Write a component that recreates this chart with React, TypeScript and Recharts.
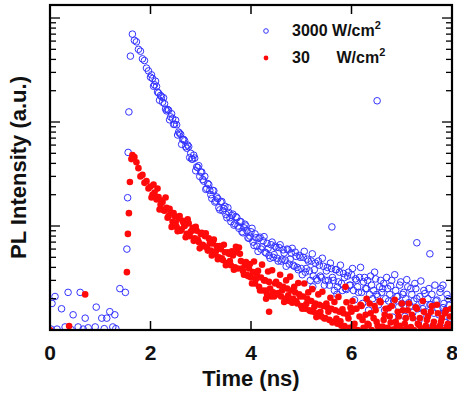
import { Legend, Scatter, ScatterChart, XAxis, YAxis } from 'recharts'

// time grids of the decay part (ns); B sits between the points of A
const decayTimeA = [
  1.64, 1.68, 1.72, 1.76, 1.8, 1.84, 1.88, 1.92, 1.96, 2.0,
  2.04, 2.08, 2.12, 2.16, 2.2, 2.24, 2.28, 2.32, 2.36, 2.4,
  2.44, 2.48, 2.52, 2.56, 2.6, 2.64, 2.68, 2.72, 2.76, 2.8,
  2.84, 2.88, 2.92, 2.96, 3.0, 3.04, 3.08, 3.12, 3.16, 3.2,
  3.24, 3.28, 3.32, 3.36, 3.4, 3.44, 3.48, 3.52, 3.56, 3.6,
  3.64, 3.68, 3.72, 3.76, 3.8, 3.84, 3.88, 3.92, 3.96, 4.0,
  4.04, 4.08, 4.12, 4.16, 4.2, 4.24, 4.28, 4.32, 4.36, 4.4,
  4.44, 4.48, 4.52, 4.56, 4.6, 4.64, 4.68, 4.72, 4.76, 4.8,
  4.84, 4.88, 4.92, 4.96, 5.0, 5.04, 5.08, 5.12, 5.16, 5.2,
  5.24, 5.28, 5.32, 5.36, 5.4, 5.44, 5.48, 5.52, 5.56, 5.6,
  5.64, 5.68, 5.72, 5.76, 5.8, 5.84, 5.88, 5.92, 5.96, 6.0,
  6.04, 6.08, 6.12, 6.16, 6.2, 6.24, 6.28, 6.32, 6.36, 6.4,
  6.44, 6.48, 6.52, 6.56, 6.6, 6.64, 6.68, 6.72, 6.76, 6.8,
  6.84, 6.88, 6.92, 6.96, 7.0, 7.04, 7.08, 7.12, 7.16, 7.2,
  7.24, 7.28, 7.32, 7.36, 7.4, 7.44, 7.48, 7.52, 7.56, 7.6,
  7.64, 7.68, 7.72, 7.76, 7.8, 7.84, 7.88, 7.92, 7.96,
]
const decayTimeB = [
  2.02, 2.06, 2.1, 2.14, 2.18, 2.22, 2.26, 2.3, 2.34, 2.38,
  2.42, 2.46, 2.5, 2.54, 2.58, 2.62, 2.66, 2.7, 2.74, 2.78,
  2.82, 2.86, 2.9, 2.94, 2.98, 3.02, 3.06, 3.1, 3.14, 3.18,
  3.22, 3.26, 3.3, 3.34, 3.38, 3.42, 3.46, 3.5, 3.54, 3.58,
  3.62, 3.66, 3.7, 3.74, 3.78, 3.82, 3.86, 3.9, 3.94, 3.98,
  4.02, 4.06, 4.1, 4.14, 4.18, 4.22, 4.26, 4.3, 4.34, 4.38,
  4.42, 4.46, 4.5, 4.54, 4.58, 4.62, 4.66, 4.7, 4.74, 4.78,
  4.82, 4.86, 4.9, 4.94, 4.98, 5.02, 5.06, 5.1, 5.14, 5.18,
  5.22, 5.26, 5.3, 5.34, 5.38, 5.42, 5.46, 5.5, 5.54, 5.58,
  5.62, 5.66, 5.7, 5.74, 5.78, 5.82, 5.86, 5.9, 5.94, 5.98,
  6.02, 6.06, 6.1, 6.14, 6.18, 6.22, 6.26, 6.3, 6.34, 6.38,
  6.42, 6.46, 6.5, 6.54, 6.58, 6.62, 6.66, 6.7, 6.74, 6.78,
  6.82, 6.86, 6.9, 6.94, 6.98, 7.02, 7.06, 7.1, 7.14, 7.18,
  7.22, 7.26, 7.3, 7.34, 7.38, 7.42, 7.46, 7.5, 7.54, 7.58,
  7.62, 7.66, 7.7, 7.74, 7.78, 7.82, 7.86, 7.9, 7.94, 7.98,
]

// 3000 W/cm2
const highPLA = [
  700, 610, 590, 500, 480, 405, 390, 330, 310, 270,
  262, 228, 220, 190, 180, 155, 150, 128, 130, 112,
  108, 95, 94, 80, 76, 68, 66, 56, 58, 50,
  44, 45, 37, 38, 33, 28, 30, 23, 25, 20,
  22, 17, 19, 15, 17, 14, 15.5, 12, 13.5, 11,
  13, 10.5, 12, 9.5, 11, 8.6, 10.4, 9.0, 7.6, 8.8,
  7.0, 8.4, 6.4, 7.6, 6.0, 7.2, 5.6, 6.8, 5.2, 6.6,
  5.0, 6.4, 4.9, 6.2, 4.6, 5.9, 4.7, 6.0, 4.3, 5.5,
  4.2, 5.6, 4.0, 5.2, 3.9, 5.0, 3.6, 4.8, 3.7, 4.6,
  3.3, 4.4, 3.0, 4.2, 3.2, 4.1, 3.0, 4.0, 2.7, 3.9,
  3.0, 3.8, 2.6, 3.6, 2.8, 3.5, 2.5, 3.3, 2.7, 3.4,
  2.4, 3.1, 2.6, 3.2, 2.3, 2.9, 2.5, 3.0, 2.2, 2.7,
  2.4, 3.1, 2.1, 2.6, 2.3, 2.8, 2.0, 2.5, 2.2, 3.0,
  1.9, 2.4, 2.1, 2.7, 1.8, 2.3, 2.0, 2.6, 1.7, 2.2,
  1.9, 2.5, 1.6, 2.1, 1.85, 2.4, 1.5, 2.0, 1.75, 2.2,
  1.45, 1.9, 1.6, 2.3, 1.4, 1.8, 1.55, 2.0, 1.3,
]
const highPLB = [
  284, 221, 247, 194, 162, 175, 171, 133, 132, 105,
  120, 95, 104, 75, 78, 61, 68, 58, 60, 45.5,
  44, 48, 34, 36.5, 30, 33, 27, 22.5, 25.6, 22,
  18.4, 21.8, 17.4, 18.3, 14.3, 17.2, 14.7, 12.9, 15, 12,
  12.6, 10.2, 12.3, 10, 11, 8.8, 9.6, 10, 7.7, 8.0,
  9.5, 6.5, 7.7, 5.7, 7.8, 6.3, 7.9, 5.5, 6.1, 4.9,
  7.0, 5.3, 6.2, 4.6, 6.6, 4.8, 5.5, 4.1, 5.9, 4.8,
  6.1, 4.1, 5.1, 3.8, 5.0, 3.4, 5.7, 3.9, 4.6, 3.0,
  5.4, 3.8, 3.1, 4.6, 3.3, 4.9, 2.7, 3.7, 3.0, 4.4,
  3.2, 2.4, 3.8, 2.9, 4.2, 2.4, 3.2, 2.45, 3.6, 2.7,
  3.9, 1.95, 3.0, 2.3, 4.0, 1.8, 3.2, 2.5, 1.55, 3.3,
  2.0, 3.6, 2.2, 1.75, 3.0, 2.5, 1.55, 3.2, 1.9, 2.65,
  1.33, 3.4, 2.1, 1.67, 2.9, 2.2, 1.35, 3.05, 1.83, 2.5,
  1.47, 2.8, 2.0, 1.23, 2.96, 1.6, 2.24, 1.35, 2.5, 1.75,
  1.09, 2.7, 1.94, 1.4, 2.5, 1.64, 1.18, 2.2, 1.73, 1.26,
]
const highEarlyTime = [
  0.02, 0.04, 0.1, 0.14, 0.23, 0.3, 0.36, 0.42, 0.46, 0.56, 0.6, 0.66, 0.7, 0.76,
  0.9, 0.92, 1.03, 1.08, 1.13, 1.19, 1.25, 1.29, 1.31, 1.39, 1.5,
  1.53, 1.545, 1.555, 1.57, 1.6,
]
const highEarlyPL = [
  1.02, 1.8, 2.1, 1.02, 1.6, 1.07, 2.3, 1.01, 1.4, 1.07, 2.3, 1.02, 1.3, 1.05,
  1.07, 1.66, 1.3, 1.03, 1.3, 1.5, 1.07, 1.4, 1.03, 2.5, 2.3,
  6.0, 18.7, 51, 125, 430,
]
const highStrayTime = [5.23, 5.61, 5.71, 6.51, 7.3, 7.56, 7.82]
const highStrayPL = [2.6, 9.8, 2.2, 160, 6.9, 5.4, 2.7]

// 30 W/cm2
const lowPLA = [
  48, 46, 41, 36, 30, 31, 26, 27, 23, 24,
  20, 21, 18, 19, 16, 17, 14, 15, 12.5, 13.5,
  11, 12.5, 9.8, 11.8, 9.0, 11.2, 10.0, 8.4, 10.6, 8.8,
  9.6, 7.6, 9.0, 7.0, 8.4, 6.6, 8.0, 6.2, 7.6, 5.8,
  6.8, 5.4, 6.4, 5.0, 6.0, 4.7, 5.6, 4.4, 5.4, 4.2,
  5.2, 4.0, 5.6, 6.2, 4.6, 3.7, 4.2, 3.4, 3.9, 3.2,
  3.6, 2.8, 3.3, 2.6, 3.2, 2.4, 3.0, 2.2, 2.9, 2.1,
  2.3, 2.8, 2.2, 2.7, 2.1, 2.6, 2.0, 2.5, 1.9, 2.4,
  2.0, 2.3, 1.8, 2.2, 1.7, 2.1, 1.6, 2.0, 1.55, 1.9,
  1.5, 1.8, 1.45, 1.75, 1.35, 1.7, 1.3, 1.65, 1.25, 1.6,
  1.2, 1.55, 1.15, 1.5, 1.1, 1.45, 2.6, 1.4, 1.05, 1.5,
  1.1, 1.6, 1.0, 1.35, 1.7, 1.05, 1.4, 1.15, 1.8, 1.0,
  1.3, 1.55, 1.1, 1.9, 1.0, 1.25, 1.6, 1.05, 1.35, 1.7,
  1.0, 1.2, 1.5, 1.1, 1.8, 1.0, 1.3, 1.55, 1.05, 1.4,
  1.0, 1.65, 1.15, 1.3, 1.0, 1.5, 1.1, 1.35, 1.0, 1.7,
  1.2, 1.0, 1.45, 1.1, 1.3, 1.0, 1.55, 1.15, 1.35,
]
const lowPLB = [
  18.8, 25, 19, 22.9, 14.4, 17.6, 14.2, 18.8, 12, 14.6,
  9.8, 13.3, 10.8, 8.9, 12.5, 9.3, 10.6, 7.8, 11.6, 8.0,
  9.0, 7.2, 9.8, 7.4, 6.1, 8.6, 6.4, 8.5, 5.8, 6.8,
  5.2, 7.4, 5.7, 4.8, 6.4, 4.9, 6.6, 4.2, 5.6, 4.6,
  5.7, 3.8, 6.3, 3.9, 5.4, 3.9, 3.4, 4.5, 3.3, 4.3,
  2.8, 4.55, 3.1, 3.7, 2.4, 4.25, 3.0, 2.4, 3.65, 2.5,
  3.75, 2.1, 2.9, 2.27, 3.4, 2.4, 1.86, 3.0, 2.16, 3.26,
  1.83, 2.6, 1.89, 2.83, 2.1, 1.6, 2.8, 1.78, 2.3, 1.52,
  2.47, 1.67, 1.33, 2.2, 1.5, 2.33, 1.29, 1.8, 1.5, 2.04,
  1.18, 1.86, 1.29, 2.08, 1.21, 1.58, 1.09, 1.85, 1.29, 1.64,
  1.9, 1.15, 1.6, 0.98, 1.75, 1.25, 1.02, 2.0, 1.12, 1.45,
  0.96, 1.7, 1.2, 1.03, 1.85, 1.08, 1.4, 0.97, 1.62, 1.18,
  1.01, 1.95, 1.1, 1.35, 0.98, 1.55, 1.15, 1.02, 1.8, 1.07,
  1.3, 0.97, 1.6, 1.12, 1.01, 1.9, 1.05, 1.25, 0.98, 1.5,
  1.1, 1.0, 1.75, 1.06, 1.2, 0.97, 1.45, 1.08, 1.02, 1.6,
]
const lowEarlyTime = [0, 0.38, 0.7, 1.53, 1.55, 1.57, 1.59, 1.62]
const lowEarlyPL = [1.0, 1.09, 2.2, 3.6, 8.4, 13.3, 26.5, 44]
const lowStrayTime = [4.3, 4.36]
const lowStrayPL = [2.0, 1.5]

const xTicks = [0, 2, 4, 6, 8]
const xDomain = [0, 8]
const yDomain = [1, 1334]
const yDecades = [1, 10, 100, 1000]
const yTicks = [
  1, 2, 3, 4, 5, 6, 7, 8, 9,
  10, 20, 30, 40, 50, 60, 70, 80, 90,
  100, 200, 300, 400, 500, 600, 700, 800, 900,
  1000,
]
const seriesNames = ['3000 W/cm²', '30      W/cm²']

const BLUE = '#3333ff'
const RED = '#ff0a0a'
const AXIS = '#000000'
const FONT = '"Liberation Sans", Arial, Helvetica, sans-serif'

// layout
const CHART_W = 457
const CHART_H = 397
const MARGIN = { top: 5, right: 5, bottom: 0, left: 0 }
const Y_AXIS_W = 50
const X_AXIS_H = 67
const PLOT_X = MARGIN.left + Y_AXIS_W
const PLOT_Y = MARGIN.top
const PLOT_W = CHART_W - MARGIN.left - MARGIN.right - Y_AXIS_W
const PLOT_H = CHART_H - MARGIN.top - MARGIN.bottom - X_AXIS_H

const toPoints = (ts: number[], vs: number[]) => ts.map((t, i) => ({ t, pl: vs[i] }))

const highData = [
  ...toPoints(highEarlyTime, highEarlyPL),
  ...toPoints(decayTimeA, highPLA),
  ...toPoints(decayTimeB, highPLB),
  ...toPoints(highStrayTime, highStrayPL),
]
const lowData = [
  ...toPoints(lowEarlyTime, lowEarlyPL),
  ...toPoints(decayTimeA, lowPLA),
  ...toPoints(decayTimeB, lowPLB),
  ...toPoints(lowStrayTime, lowStrayPL),
]

const OpenDot = (p: any) => <circle cx={p.cx} cy={p.cy} r={3.3} fill="none" stroke={BLUE} strokeWidth={1} />
const FilledDot = (p: any) => <circle cx={p.cx} cy={p.cy} r={3.3} fill={RED} />

function BottomTick({ x, y, payload }: any) {
  const v = payload.value
  return (
    <g>
      {v > xDomain[0] && v < xDomain[1] && (
        <line x1={x} x2={x} y1={y} y2={y - 9} stroke={AXIS} strokeWidth={1.5} />
      )}
      <text x={x} y={y + 30} textAnchor="middle" fontFamily={FONT} fontWeight="bold" fontSize={21} fill="#111">
        {v}
      </text>
    </g>
  )
}

function LeftTick({ x, y, payload }: any) {
  const len = yDecades.includes(payload.value) ? 10 : 6
  return <line x1={x} x2={x + len} y1={y} y2={y} stroke={AXIS} strokeWidth={1.3} />
}

// top and right sides of the frame, with the same ticks as the bottom and left axes
function FrameTopRight() {
  const sx = (v: number) => PLOT_X + ((v - xDomain[0]) / (xDomain[1] - xDomain[0])) * PLOT_W
  const sy = (v: number) =>
    PLOT_Y + PLOT_H * (1 - Math.log(v / yDomain[0]) / Math.log(yDomain[1] / yDomain[0]))
  const right = PLOT_X + PLOT_W
  return (
    <svg
      width={CHART_W}
      height={CHART_H}
      viewBox={`0 0 ${CHART_W} ${CHART_H}`}
      style={{ position: 'absolute', left: 0, top: 0, pointerEvents: 'none', zIndex: 5 }}
    >
      <rect x={PLOT_X} y={PLOT_Y} width={PLOT_W} height={PLOT_H} fill="none" stroke={AXIS} strokeWidth={2.2} />
      {xTicks
        .filter((v) => v > xDomain[0] && v < xDomain[1])
        .map((v) => (
          <line key={`t${v}`} x1={sx(v)} x2={sx(v)} y1={PLOT_Y} y2={PLOT_Y + 9} stroke={AXIS} strokeWidth={1.5} />
        ))}
      {yTicks.map((v) => (
        <line
          key={`r${v}`}
          x1={right}
          x2={right - (yDecades.includes(v) ? 10 : 6)}
          y1={sy(v)}
          y2={sy(v)}
          stroke={AXIS}
          strokeWidth={1.3}
        />
      ))}
    </svg>
  )
}

function LegendBox({ payload }: any) {
  const items = [...(payload ?? [])].sort(
    (a: any, b: any) => seriesNames.indexOf(a.value) - seriesNames.indexOf(b.value),
  )
  return (
    <div style={{ fontFamily: FONT, fontWeight: 'bold', fontSize: 16, color: '#111' }}>
      {items.map((entry: any) => {
        const open = entry.value === seriesNames[0]
        const label = String(entry.value).replace('²', '')
        return (
          <div key={entry.value} style={{ display: 'flex', alignItems: 'center', height: 26.5, whiteSpace: 'pre' }}>
            <svg width={10} height={10}>
              {open ? (
                <circle cx={5} cy={5} r={2.3} fill="none" stroke={BLUE} strokeWidth={1} />
              ) : (
                <circle cx={5} cy={5} r={2.4} fill={RED} />
              )}
            </svg>
            <span style={{ marginLeft: 21 }}>
              {label}
              <span style={{ fontSize: 11, position: 'relative', top: -7 }}>2</span>
            </span>
          </div>
        )
      })}
    </div>
  )
}

export default function App() {
  return (
    <div style={{ position: 'fixed', left: 0, top: 0, width: CHART_W, height: CHART_H, background: '#fff' }}>
      <ScatterChart width={CHART_W} height={CHART_H} margin={MARGIN}>
        <XAxis
          type="number"
          dataKey="t"
          domain={xDomain}
          ticks={xTicks}
          interval={0}
          allowDataOverflow
          height={X_AXIS_H}
          tickSize={0}
          tickMargin={0}
          tickLine={false}
          tick={BottomTick}
          axisLine={{ stroke: AXIS, strokeWidth: 2 }}
          label={{
            value: 'Time (ns)',
            position: 'insideBottom',
            offset: 11,
            style: { fontFamily: FONT, fontWeight: 'bold', fontSize: 22, fill: '#111' },
          }}
        />
        <YAxis
          type="number"
          dataKey="pl"
          scale="log"
          domain={yDomain}
          ticks={yTicks}
          interval={0}
          allowDataOverflow
          width={Y_AXIS_W}
          tickSize={0}
          tickMargin={0}
          tickLine={false}
          tick={LeftTick}
          axisLine={{ stroke: AXIS, strokeWidth: 2 }}
          label={{
            value: 'PL Intensity (a.u.)',
            angle: -90,
            position: 'insideLeft',
            offset: 18,
            style: { textAnchor: 'middle', fontFamily: FONT, fontWeight: 'bold', fontSize: 22, fill: '#111' },
          }}
        />
        <Legend
          layout="horizontal"
          verticalAlign="middle"
          align="center"
          wrapperStyle={{ left: 261, top: 18, width: 180 }}
          content={LegendBox}
        />
        <Scatter name={seriesNames[0]} data={highData} fill={BLUE} shape={OpenDot} isAnimationActive={false} />
        <Scatter name={seriesNames[1]} data={lowData} fill={RED} shape={FilledDot} isAnimationActive={false} />
      </ScatterChart>
      <FrameTopRight />
    </div>
  )
}
